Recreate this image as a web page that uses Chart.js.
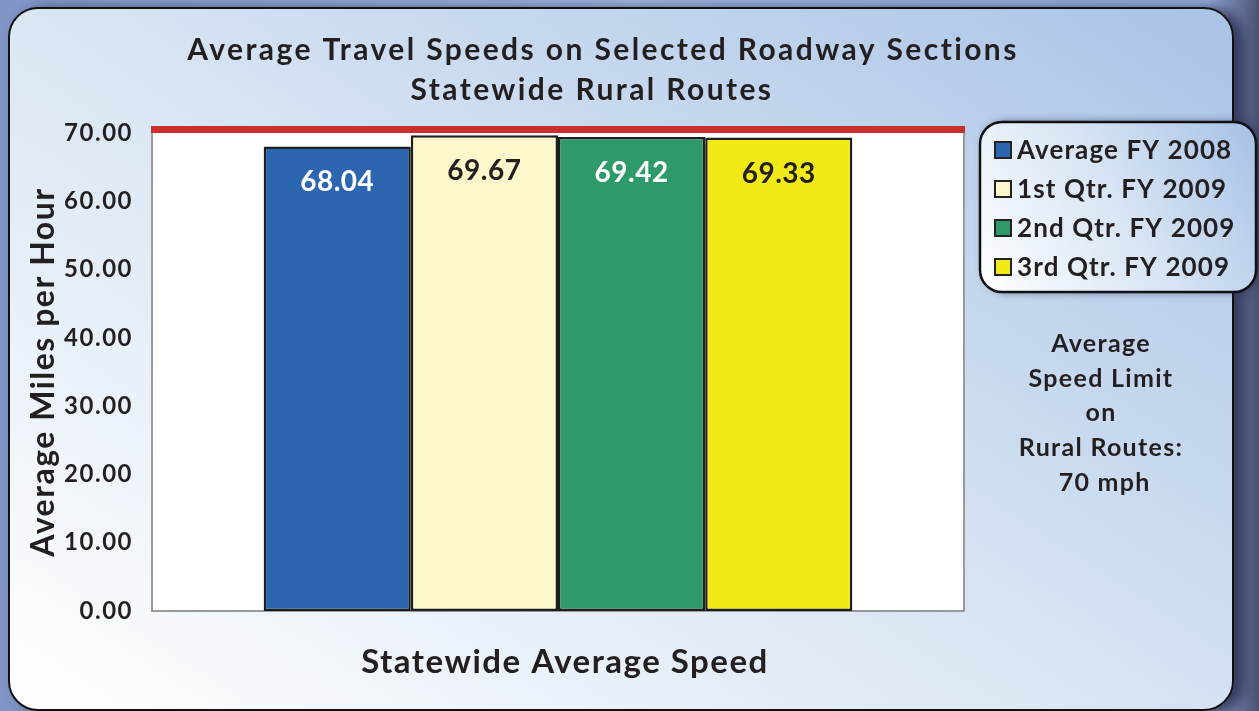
<!DOCTYPE html>
<html>
<head>
<meta charset="utf-8">
<script src="https://cdn.jsdelivr.net/npm/chart.js@4.4.1/dist/chart.umd.min.js"></script>
<style>
  html, body { margin: 0; padding: 0; overflow: hidden; }
  body {
    width: 1259px; height: 711px; position: relative;
    background: linear-gradient(90deg, #8196c6 0%, #9fb6dd 50%, #93a9d6 96%, #4b5273 100%);
  }
  .panel {
    position: absolute; left: 8px; top: 7px; width: 1222px; height: 700px;
    border: 2.5px solid #111; border-radius: 30px;
    background: linear-gradient(33deg, #ffffff 0%, #dbe7f4 45%, #a9c3e6 100%);
    box-shadow: 10px 2px 14px rgba(40, 45, 80, 0.85);
  }
  .wrap { position: absolute; left: 0; top: 0; width: 1259px; height: 711px; }
</style>
</head>
<body>
<div class="panel"></div>
<div class="wrap"><canvas id="speedChart"></canvas></div>
<script>
// Chart data
const categories = ["Statewide Average Speed"];
const seriesLabels = ["Average FY 2008", "1st Qtr. FY 2009", "2nd Qtr. FY 2009", "3rd Qtr. FY 2009"];
const seriesValues = [68.04, 69.67, 69.42, 69.33];
const seriesColors = ["#2c66b1", "#fcf8cb", "#2f9a69", "#f2ea18"];
const labelColors = ["#ffffff", "#231f20", "#ffffff", "#231f20"];
const yTicks = [0, 10, 20, 30, 40, 50, 60, 70];
const speedLimit = 70;
const titleLines = ["Average Travel Speeds on Selected Roadway Sections", "Statewide Rural Routes"];
const yAxisTitle = "Average Miles per Hour";
const noteLines = ["Average", "Speed Limit", "on", "Rural Routes:", " 70 mph"];

const FONT = "Lato, 'DejaVu Sans', sans-serif";
const INK = "#231f20";

// Rounded rectangle path helper
function roundRect(ctx, x, y, w, h, r) {
  ctx.beginPath();
  ctx.moveTo(x + r, y);
  ctx.arcTo(x + w, y, x + w, y + h, r);
  ctx.arcTo(x + w, y + h, x, y + h, r);
  ctx.arcTo(x, y + h, x, y, r);
  ctx.arcTo(x, y, x + w, y, r);
  ctx.closePath();
}

/* Decorations: plot background, speed limit line, bar values, title, legend, note */
const decorPlugin = {
  id: "decor",
  beforeDraw(chart) {
    // the original face is wider than Lato, so widen axis text a little
    chart.ctx.letterSpacing = "1.5px";
  },
  beforeDatasetsDraw(chart) {
    const { ctx, chartArea: a } = chart;
    ctx.save();
    ctx.fillStyle = "#ffffff";
    ctx.fillRect(a.left, a.top, a.right - a.left, a.bottom - a.top);
    ctx.strokeStyle = "#9a9a9a";
    ctx.lineWidth = 2;
    ctx.beginPath();
    ctx.moveTo(a.left, a.top);
    ctx.lineTo(a.left, a.bottom);
    ctx.lineTo(a.right, a.bottom);
    ctx.lineTo(a.right, a.top);
    ctx.stroke();
    ctx.restore();
  },
  afterDatasetsDraw(chart) {
    const { ctx, chartArea: a, scales: { y } } = chart;
    ctx.save();
    // speed limit line sitting on top of the plot area
    const ly = y.getPixelForValue(speedLimit);
    ctx.fillStyle = "#c8302b";
    ctx.fillRect(a.left - 1, ly - 7, a.right - a.left + 2, 7);

    // values inside the bars
    ctx.letterSpacing = "0.5px";
    ctx.font = "bold 28px " + FONT;
    ctx.textAlign = "center";
    ctx.textBaseline = "middle";
    chart.data.datasets.forEach((ds, i) => {
      const bar = chart.getDatasetMeta(i).data[0];
      ctx.fillStyle = labelColors[i];
      ctx.fillText(ds.data[0].toFixed(2), bar.x, bar.y + 36);
    });
    ctx.restore();
  },
  afterDraw(chart) {
    const { ctx } = chart;
    ctx.save();
    ctx.fillStyle = INK;
    ctx.textAlign = "center";
    ctx.textBaseline = "middle";

    // title
    ctx.letterSpacing = "2.4px";
    ctx.font = "bold 30px " + FONT;
    ctx.fillText(titleLines[0], 603, 50);
    ctx.fillText(titleLines[1], 592, 90);

    // legend box
    const bx = 980, by = 122, bw = 276, bh = 170;
    ctx.save();
    ctx.shadowColor = "rgba(40,45,80,0.7)";
    ctx.shadowBlur = 8;
    ctx.shadowOffsetX = 4;
    roundRect(ctx, bx, by, bw, bh, 22);
    const g = ctx.createLinearGradient(bx, by + bh, bx + bw, by);
    g.addColorStop(0, "#ffffff");
    g.addColorStop(0.55, "#d3e2f3");
    g.addColorStop(1, "#a6c1e6");
    ctx.fillStyle = g;
    ctx.fill();
    ctx.restore();
    roundRect(ctx, bx, by, bw, bh, 22);
    ctx.lineWidth = 2.5;
    ctx.strokeStyle = "#111";
    ctx.stroke();

    ctx.textAlign = "left";
    ctx.letterSpacing = "1.1px";
    ctx.font = "bold 26px " + FONT;
    const rowY = [150, 189, 228, 267];
    chart.data.datasets.forEach((ds, i) => {
      ctx.fillStyle = ds.backgroundColor;
      ctx.fillRect(995, rowY[i] - 8, 16, 16);
      ctx.lineWidth = 2;
      ctx.strokeStyle = "#222";
      ctx.strokeRect(995, rowY[i] - 8, 16, 16);
      ctx.fillStyle = INK;
      ctx.fillText(ds.label, 1017, rowY[i] + 1);
    });

    // speed limit note
    ctx.textAlign = "center";
    ctx.letterSpacing = "1.3px";
    ctx.font = "bold 25px " + FONT;
    noteLines.forEach((t, i) => ctx.fillText(t, 1101, 344 + i * 34.7));
    ctx.restore();
  }
};

const datasets = seriesLabels.map((label, i) => ({
  label: label,
  data: [seriesValues[i]],
  backgroundColor: seriesColors[i],
  borderColor: "#1e1e1e",
  borderWidth: 2.5,
  borderSkipped: false,
  categoryPercentage: 0.725,
  barPercentage: 1.0
}));

new Chart(document.getElementById("speedChart"), {
  type: "bar",
  data: { labels: categories, datasets: datasets },
  plugins: [decorPlugin],
  options: {
    animation: false,
    responsive: true,
    maintainAspectRatio: false,
    layout: { padding: { left: 24, right: 295, top: 133, bottom: 0 } },
    scales: {
      x: {
        grid: { display: false, drawTicks: false },
        border: { display: false },
        ticks: { color: INK, font: { family: FONT, size: 33, weight: "bold" }, padding: 32, labelOffset: 7 },
        afterFit: (scale) => { scale.height = 100; }
      },
      y: {
        min: yTicks[0],
        max: yTicks[yTicks.length - 1],
        afterBuildTicks: (scale) => { scale.ticks = yTicks.map((v) => ({ value: v })); },
        grid: { display: false, drawTicks: false },
        border: { display: false },
        ticks: {
          color: INK,
          font: { family: FONT, size: 24, weight: "bold" },
          padding: 19,
          callback: (v) => Number(v).toFixed(2)
        },
        title: {
          display: true,
          text: yAxisTitle,
          color: INK,
          font: { family: FONT, size: 32, weight: "bold" },
          padding: 0
        },
        afterFit: (scale) => { scale.width = 128; }
      }
    },
    plugins: {
      legend: { display: false },
      tooltip: { enabled: false },
      title: { display: false }
    }
  }
});
</script>
</body>
</html>
